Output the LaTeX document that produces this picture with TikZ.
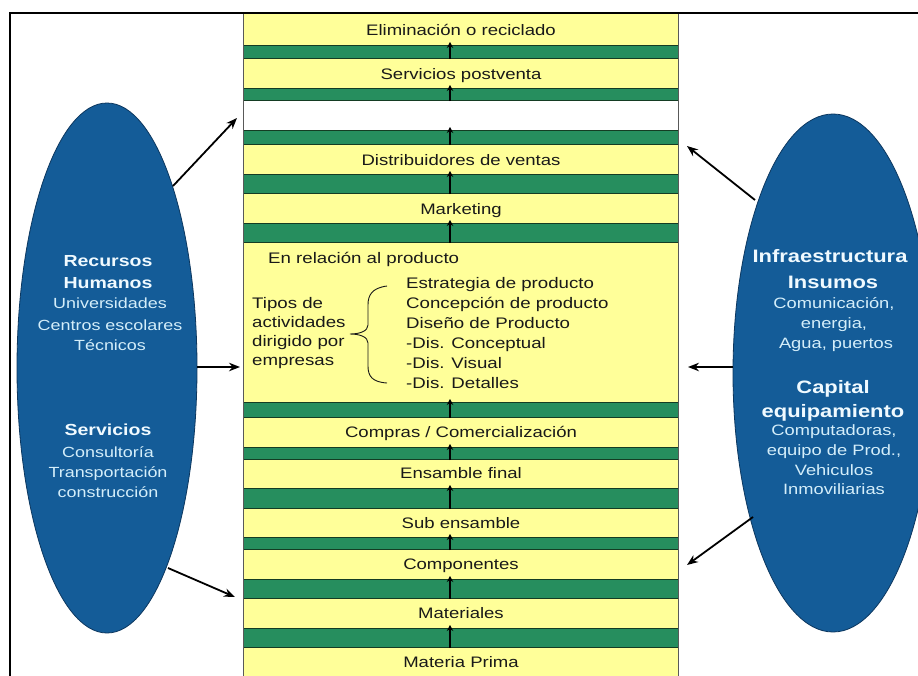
\documentclass[tikz,border=0pt]{standalone}
\usepackage{fontspec}
\setmainfont{Liberation Sans}[FakeStretch=1.22]
\usetikzlibrary{arrows.meta,shapes.geometric}
\definecolor{ybg}{RGB}{255,255,153}
\definecolor{gband}{RGB}{38,142,94}
\definecolor{gline}{RGB}{20,60,35}
\definecolor{eblue}{RGB}{20,92,152}
\definecolor{eline}{RGB}{12,55,95}
\definecolor{ehead}{RGB}{240,250,255}
\definecolor{etext}{RGB}{212,238,250}
\definecolor{ctext}{RGB}{25,25,25}
\begin{document}
\begin{tikzpicture}[x=1pt,y=-1pt,
  gbandst/.style={fill=gband,draw=gline,line width=1pt},
  stagetxt/.style={font=\fontsize{15.2}{18}\selectfont,text=ctext,inner sep=0pt,text height=10.9pt,text depth=0pt},
  blocktxt/.style={font=\fontsize{15.3}{18}\selectfont,text=ctext,inner sep=0pt,text height=10.9pt,text depth=0pt,anchor=west},
  uparrow/.style={-{Stealth[length=6pt,width=6.5pt]},line width=1.8pt,black},
  sidearrow/.style={-{Stealth[length=11pt,width=8.5pt]},line width=1.8pt,black},
  bigellipse/.style={ellipse,fill=eblue,draw=eline,line width=0.8pt,inner sep=0pt},
  lhd/.style={font=\bfseries\fontsize{16}{19}\selectfont,text=ehead,inner sep=0pt,text height=11.5pt,text depth=0pt},
  ltx/.style={font=\fontsize{14.7}{17}\selectfont,text=etext,inner sep=0pt,text height=10.5pt,text depth=0pt},
  rhd/.style={font=\bfseries\fontsize{18}{20}\selectfont,text=ehead,inner sep=0pt,text height=12.9pt,text depth=0pt},
  rtx/.style={font=\fontsize{15}{18}\selectfont,text=etext,inner sep=0pt,text height=10.7pt,text depth=0pt},
]
\useasboundingbox (0,0) rectangle (918,675);
\clip (0,0) rectangle (918,675);
\fill[white] (0,0) rectangle (918,675);

% yellow stage bands
\foreach \a/\b in {13/45,58/88,144/174,193/223,242/402,417/447,459/488,508/537,549/579,598/628,647/690}
  \fill[ybg] (243,\a) rectangle (678,\b);
% green separator bands with up arrows
\foreach \a/\b [count=\i] in {45/58,88/100,130/144,174/193,223/242,402/417,447/459,488/508,537/549,579/598,628/647}{
  \draw[gbandst] (243,\a) rectangle (678,\b);
  \coordinate (ub\i) at (450,\b+1);
  \coordinate (ut\i) at (450,\a-3);
  \draw[uparrow] (ub\i) -- (ut\i);
}
% column side lines
\draw[black!65,line width=0.9pt] (243,13) -- (243,690);
\draw[black!65,line width=0.9pt] (678,13) -- (678,690);

% stage texts
\node[stagetxt] (s1) at (461,30) {Eliminación o reciclado};
\node[stagetxt] (s2) at (461,74) {Servicios postventa};
\node[stagetxt] (s3) at (461,160) {Distribuidores de ventas};
\node[stagetxt] (s4) at (461,209) {Marketing};
\node[stagetxt] (s5) at (461,432) {Compras / Comercialización};
\node[stagetxt] (s6) at (461,473) {Ensamble final};
\node[stagetxt] (s7) at (461,523) {Sub ensamble};
\node[stagetxt] (s8) at (461,564) {Componentes};
\node[stagetxt] (s9) at (461,613) {Materiales};
\node[stagetxt] (s10) at (461,662) {Materia Prima};

% product block
\node[blocktxt] (p0) at (268,258) {En relación al producto};
\node[blocktxt] (q1) at (252,303) {Tipos de};
\node[blocktxt] (q2) at (252,322) {actividades};
\node[blocktxt] (q3) at (252,341) {dirigido por};
\node[blocktxt] (q4) at (252,360) {empresas};
\node[blocktxt] (r1) at (406,283) {Estrategia de producto};
\node[blocktxt] (r2) at (406,303) {Concepción de producto};
\node[blocktxt] (r3) at (406,323) {Diseño de Producto};
\node[blocktxt] (r4) at (406,343) {-Dis. Conceptual};
\node[blocktxt] (r5) at (406,363) {-Dis. Visual};
\node[blocktxt] (r6) at (406,383) {-Dis. Detalles};
\draw[ctext,line width=0.9pt] (387,286) .. controls (372,288) and (368,295) .. (368,305) -- (368,325)
  .. controls (368,331) and (360,334) .. (350,334)
  .. controls (360,334) and (368,337) .. (368,343) -- (368,366)
  .. controls (368,376) and (372,382) .. (387,383);

% ellipses
\node[bigellipse,minimum width=180pt,minimum height=530pt] (L) at (107,368) {};
\node[bigellipse,minimum width=200pt,minimum height=518pt] (R) at (833,373) {};

\node[lhd] (l1) at (108,261) {Recursos};
\node[lhd] (l2) at (108,283) {Humanos};
\node[ltx] (l3) at (110,303) {Universidades};
\node[ltx] (l4) at (110,325) {Centros escolares};
\node[ltx] (l5) at (110,345) {Técnicos};
\node[lhd] (l6) at (108,430) {Servicios};
\node[ltx] (l7) at (108,452) {Consultoría};
\node[ltx] (l8) at (108,472) {Transportación};
\node[ltx] (l9) at (108,492) {construcción};

\node[rhd] (m1) at (830,256) {Infraestructura};
\node[rhd] (m2) at (833,282) {Insumos};
\node[rtx] (m3) at (834,303) {Comunicación,};
\node[rtx] (m4) at (834,323) {energia,};
\node[rtx] (m5) at (836,343) {Agua, puertos};
\node[rhd] (m6) at (833,387) {Capital};
\node[rhd] (m7) at (833,411) {equipamiento};
\node[rtx] (m8) at (834,430) {Computadoras,};
\node[rtx] (m9) at (834,450) {equipo de Prod.,};
\node[rtx] (m10) at (834,470) {Vehiculos};
\node[rtx] (m11) at (834,489) {Inmoviliarias};

% side arrows
\coordinate (la1) at (173,186); \coordinate (lb1) at (237,118);
\coordinate (la2) at (197,367); \coordinate (lb2) at (240,367);
\coordinate (la3) at (168,568); \coordinate (lb3) at (235,597);
\coordinate (ra1) at (755,200); \coordinate (rb1) at (687,146);
\coordinate (ra2) at (733,367); \coordinate (rb2) at (688,367);
\coordinate (ra3) at (753,517); \coordinate (rb3) at (687,565);
\draw[sidearrow] (la1) -- (lb1);
\draw[sidearrow] (la2) -- (lb2);
\draw[sidearrow] (la3) -- (lb3);
\draw[sidearrow] (ra1) -- (rb1);
\draw[sidearrow] (ra2) -- (rb2);
\draw[sidearrow] (ra3) -- (rb3);

% frame (cut at right and bottom)
\draw[black,line width=2.6pt] (10,700) -- (10,13) -- (930,13);
\end{tikzpicture}
\end{document}
